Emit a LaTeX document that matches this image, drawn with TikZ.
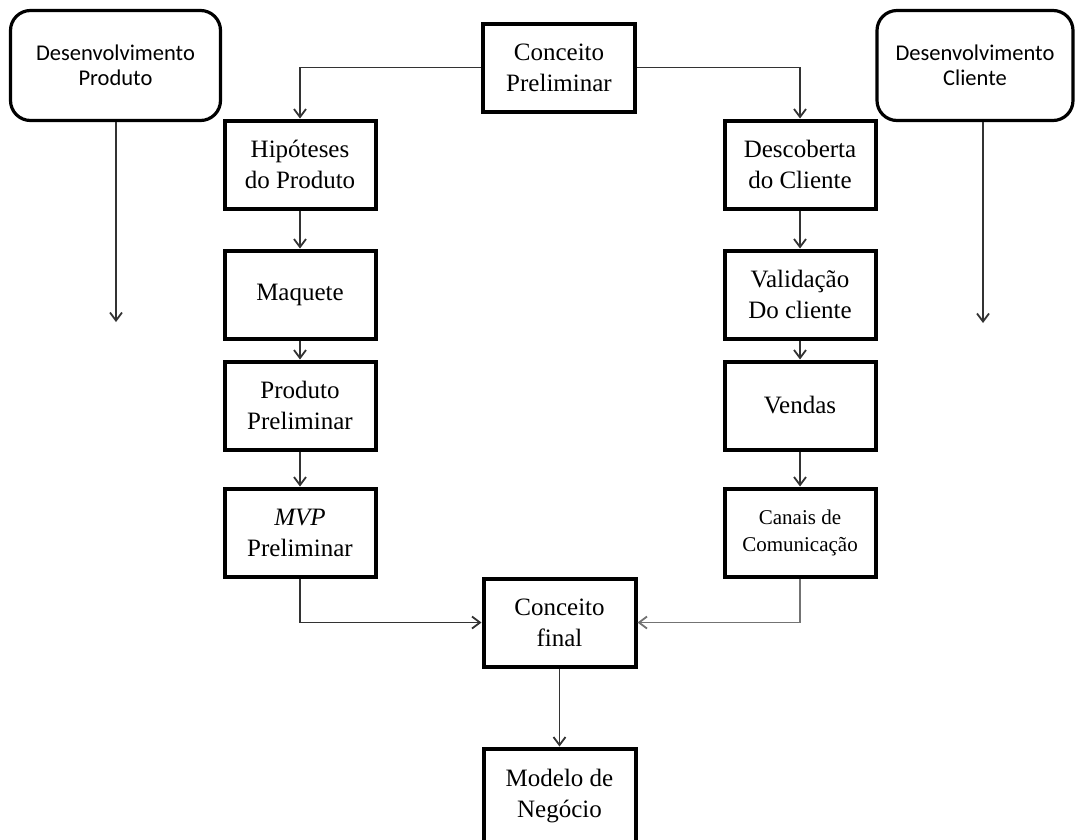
\documentclass[tikz,border=0pt]{standalone}
\usepackage{fontspec}
\setmainfont{Liberation Serif}
\newfontfamily\sansf{Carlito}
\usetikzlibrary{arrows.meta}
\begin{document}
\begin{tikzpicture}[x=1pt,y=-1pt,
  stepbox/.style={draw=black, line width=4pt, minimum width=151pt, minimum height=88pt,
    inner sep=0pt, align=center, font=\fontsize{25}{31}\selectfont},
  smallbox/.style={stepbox, font=\fontsize{21}{27}\selectfont},
  devbox/.style={draw=black, line width=3.2pt, rounded corners=20pt, inner sep=0pt,
    minimum height=110pt, align=center, font=\sansf\fontsize{22.5}{25}\selectfont},
  conn/.style={draw=black!80, line width=1.6pt, -{Straight Barb[length=8pt,width=12pt,line width=1.8pt]}},
  connlight/.style={conn, draw=black!55},
]
\useasboundingbox (0,0) rectangle (1076,839);
\clip (0,0) rectangle (1076,839);

% top-level development boxes
\node[devbox, minimum width=210pt] (dp) at (115.5,65.5) {Desenvolvimento\\Produto};
\node[devbox, minimum width=196pt] (dc) at (975,65.5) {Desenvolvimento\\Cliente};
\coordinate (dpend) at (116,322);
\coordinate (dcend) at (983,323);

% center
\node[stepbox, minimum width=152pt, minimum height=88pt] (cp) at (559,67.5) {Conceito\\Preliminar};
\node[stepbox, minimum width=152pt, minimum height=88pt] (cf) at (559.5,622.5) {Conceito\\final};
\node[stepbox, minimum width=152pt, minimum height=96pt] (mn) at (559.5,796.5) {Modelo de\\Negócio};

% left column
\node[stepbox] (hip) at (300,164.5) {Hipóteses\\do Produto};
\node[stepbox] (maq) at (300,294.5) {Maquete};
\node[stepbox] (pp) at (300,405.5) {Produto\\Preliminar};
\node[stepbox] (mvp) at (300,532.5) {\textit{MVP}\\Preliminar};

% right column
\node[stepbox] (dcl) at (800,164.5) {Descoberta\\do Cliente};
\node[stepbox] (val) at (800,294.5) {Validação\\Do cliente};
\node[stepbox] (ven) at (800,405.5) {Vendas};
\node[smallbox] (can) at (800,532.5) {Canais de\\Comunicação};

% connectors
\draw[conn] (dp.south -| dpend) -- (dpend);
\draw[conn] (dc.south -| dcend) -- (dcend);
\draw[conn] (cp.west) -| (hip.north);
\draw[conn] (cp.east) -| (dcl.north);
\draw[conn] (hip) -- (maq);
\draw[conn] (maq) -- (pp);
\draw[conn] (pp) -- (mvp);
\draw[conn] (dcl) -- (val);
\draw[conn] (val) -- (ven);
\draw[conn] (ven) -- (can);
\draw[conn] (mvp.south) |- (cf.west);
\draw[connlight] (can.south) |- (cf.east);
\draw[conn] (cf) -- (mn);
\end{tikzpicture}
\end{document}
